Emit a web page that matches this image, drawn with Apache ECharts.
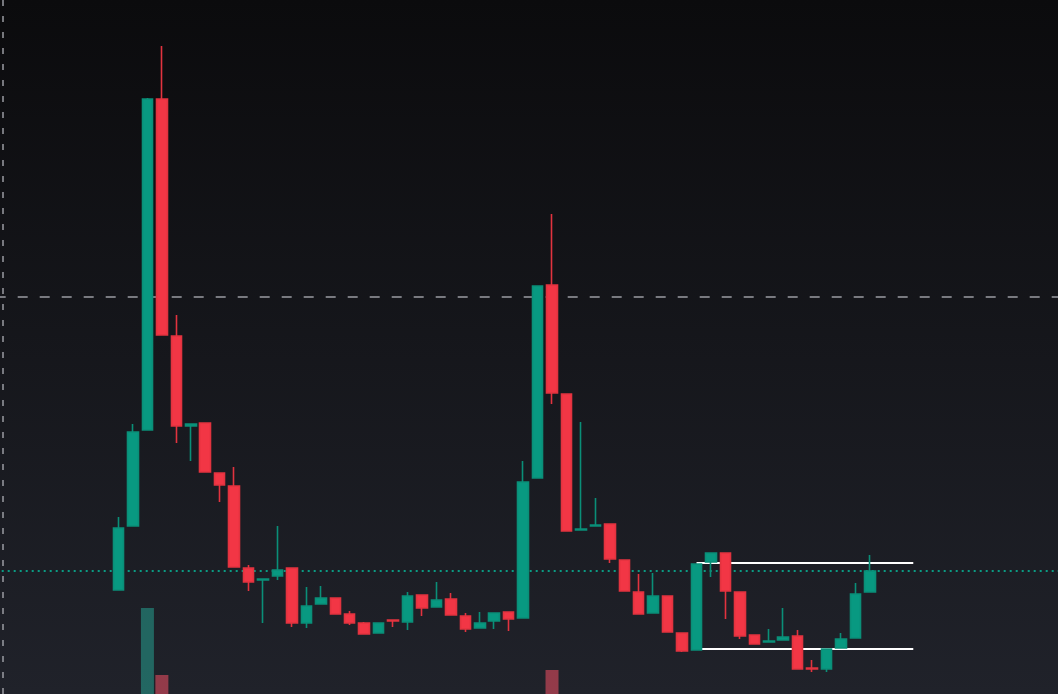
<!DOCTYPE html>
<html>
<head>
<meta charset="utf-8">
<script src="https://cdn.jsdelivr.net/npm/echarts@6/dist/echarts.min.js"></script>
<style>
html,body{margin:0;padding:0;width:1058px;height:694px;overflow:hidden;background:#15161a;}
#chart{width:1058px;height:694px;}
</style>
</head>
<body>
<div id="chart"></div>
<script>
// Slots before the first candle and after the last one (empty chart space)
const leadSlots = 8;
const tailSlots = 13;

// OHLC values (open, close, low, high)
const opens  = [1.04,1.68,2.64,5.95,3.58,2.68,2.71,2.21,2.08,1.26,1.14,1.18,1.26,0.71,0.90,0.96,0.80,0.71,0.61,0.74,0.72,0.99,0.87,0.95,0.78,0.66,0.73,0.82,0.76,2.16,4.09,3.00,1.64,1.68,1.70,1.34,1.02,0.81,0.98,0.61,0.44,1.32,1.41,1.02,0.59,0.52,0.54,0.58,0.26,0.25,0.46,0.56,1.02];
const closes = [1.66,2.62,5.95,3.59,2.68,2.70,2.22,2.09,1.27,1.12,1.15,1.24,0.71,0.88,0.96,0.80,0.71,0.60,0.71,0.73,0.98,0.86,0.94,0.79,0.65,0.71,0.81,0.75,2.12,4.08,3.01,1.63,1.65,1.69,1.35,1.03,0.80,0.98,0.62,0.43,1.30,1.41,1.03,0.58,0.50,0.53,0.57,0.25,0.25,0.45,0.55,1.00,1.23];
const lows   = [1.04,1.68,2.64,3.59,2.51,2.33,2.22,1.92,1.27,1.03,0.71,1.14,0.67,0.66,0.90,0.80,0.69,0.60,0.61,0.67,0.64,0.78,0.87,0.79,0.62,0.66,0.65,0.63,0.76,2.16,2.90,1.63,1.64,1.68,1.31,1.03,0.80,0.81,0.62,0.42,0.44,1.17,0.75,0.55,0.50,0.52,0.54,0.25,0.22,0.22,0.46,0.56,1.02];
const highs  = [1.77,2.70,5.96,6.48,3.79,2.70,2.71,2.21,2.27,1.29,1.15,1.68,1.26,1.07,1.08,0.96,0.83,0.72,0.71,0.74,1.02,0.99,1.12,1.01,0.81,0.82,0.81,0.82,2.33,4.08,4.80,3.00,2.72,1.96,1.70,1.34,1.20,1.21,0.98,0.61,1.30,1.41,1.41,1.02,0.59,0.65,0.86,0.64,0.34,0.45,0.61,1.11,1.39];
// Volume (only the three largest bars reach into view)
const volumes = [60,75,186,119,70,30,45,25,55,30,40,35,45,30,20,20,15,15,15,10,25,15,20,15,15,10,15,15,95,90,124,80,50,30,40,35,30,30,35,25,70,30,45,35,20,15,20,30,15,25,20,45,40];

// Drawn levels
const crosshairPrice = 3.97;
const lastPrice = 1.23;
const rangeTop = 1.31;
const rangeBottom = 0.45;
const rangeStartCandle = 40;   // candle where the range lines start
const rangeEndSlot = 63;       // chart slot where they end

const totalSlots = leadSlots + opens.length + tailSlots;
const categories = [];
for (let i = 0; i < totalSlots; i++) categories.push(String(i + 1));

const candleData = [];
const volData = [];
for (let i = 0; i < totalSlots; i++) {
  const k = i - leadSlots;
  if (k >= 0 && k < opens.length) {
    candleData.push([opens[k], closes[k], lows[k], highs[k]]);
    const up = closes[k] >= opens[k];
    volData.push({value: volumes[k], itemStyle: {color: up ? 'rgba(38,166,150,0.52)' : 'rgba(242,80,100,0.55)'}});
  } else {
    candleData.push('-');
    volData.push('-');
  }
}

const chart = echarts.init(document.getElementById('chart'), null, {renderer: 'canvas'});
const gridL = -4.3, gridW = 1069.3;
chart.setOption({
  animation: false,
  backgroundColor: new echarts.graphic.LinearGradient(0, 0, 0, 1, [
    {offset: 0, color: '#0b0b0d'},
    {offset: 1, color: '#20222a'}
  ]),
  grid: [
    {left: gridL, width: gridW, top: 0, height: 694, outerBoundsMode: 'none', containLabel: false},
    {left: gridL, width: gridW, top: 500, height: 294, outerBoundsMode: 'none', containLabel: false}
  ],
  xAxis: [
    {type: 'category', data: categories, gridIndex: 0, boundaryGap: true, show: false},
    {type: 'category', data: categories, gridIndex: 1, boundaryGap: true, show: false}
  ],
  yAxis: [
    {type: 'value', gridIndex: 0, min: 0, max: 6.94, show: false, splitLine: {show: false}},
    {type: 'value', gridIndex: 1, min: 0, max: 294, show: false, splitLine: {show: false}}
  ],
  series: [
    {
      type: 'bar', xAxisIndex: 1, yAxisIndex: 1, data: volData, barWidth: 13, z: 1, silent: true
    },
    {
      type: 'line', xAxisIndex: 0, yAxisIndex: 0, data: [], z: 2, silent: true,
      markLine: {
        silent: true, symbol: 'none', label: {show: false}, animation: false,
        data: [
          {xAxis: 0, lineStyle: {color: '#9a9ca3', width: 1.5, type: [6, 10]}},
          {yAxis: crosshairPrice, lineStyle: {color: '#9a9ca3', width: 1.5, type: [10, 12]}},
          {yAxis: lastPrice, lineStyle: {color: '#0b9b83', width: 1.8, type: [2, 4]}},
          [
            {coord: [categories[leadSlots + rangeStartCandle], rangeTop], lineStyle: {color: '#ffffff', width: 2, type: 'solid'}},
            {coord: [categories[rangeEndSlot], rangeTop]}
          ],
          [
            {coord: [categories[leadSlots + rangeStartCandle], rangeBottom], lineStyle: {color: '#ffffff', width: 2, type: 'solid'}},
            {coord: [categories[rangeEndSlot], rangeBottom]}
          ]
        ]
      }
    },
    {
      type: 'candlestick', xAxisIndex: 0, yAxisIndex: 0, data: candleData, barWidth: 11, z: 5, silent: true,
      itemStyle: {
        color: '#089981', color0: '#f23645',
        borderColor: '#0a8f78', borderColor0: '#e2333f', borderWidth: 1.6
      }
    }
  ]
});
</script>
</body>
</html>
